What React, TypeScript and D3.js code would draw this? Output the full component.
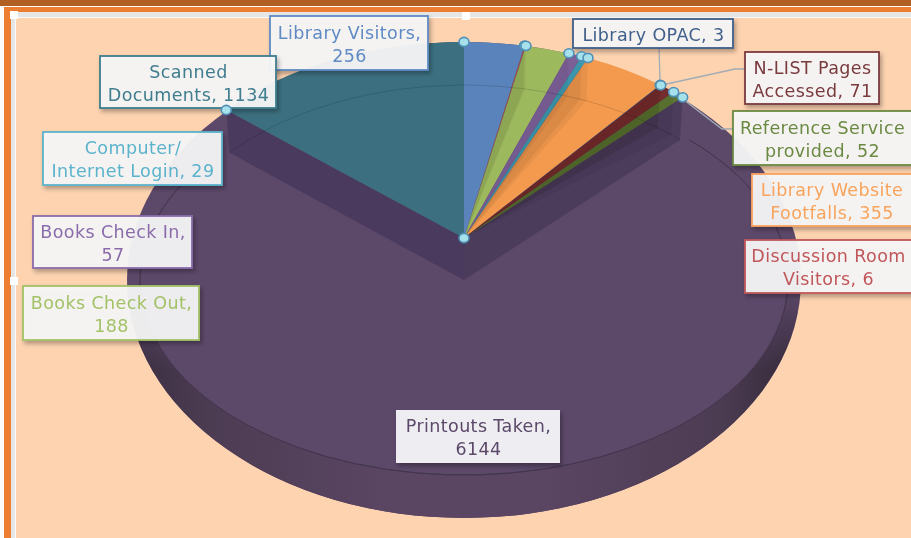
import React from "react";
import * as d3 from "d3";

const categories = [
  "Library Visitors", "Discussion Room Visitors", "Books Check Out", "Books Check In",
  "Computer/ Internet Login", "Library Website Footfalls", "Library OPAC",
  "N-LIST Pages Accessed", "Reference Service provided", "Printouts Taken", "Scanned Documents",
];
const values = [256, 6, 188, 57, 29, 355, 3, 71, 52, 6144, 1134];
const sliceColors = ["#5b83bb", "#a8504e", "#9db95e", "#7c5f97", "#3f9db5", "#f49a4e", "#35577f", "#742d2c", "#5d7531", "#5c4869", "#3c7080"];
const labelColors = ["#5f8ac4", "#c0575a", "#a3c266", "#8a6cab", "#5bb3cc", "#f9a45c", "#3f5f8a", "#7a3a3e", "#6b8a42", "#5c4869", "#3f7d8e"];
const labelLines = [
  ["Library Visitors,", "256"], ["Discussion Room", "Visitors, 6"], ["Books Check Out,", "188"],
  ["Books Check In,", "57"], ["Computer/", "Internet Login, 29"], ["Library Website", "Footfalls, 355"],
  ["Library OPAC, 3"], ["N-LIST Pages", "Accessed, 71"], ["Reference Service", "provided, 52"],
  ["Printouts Taken,", "6144"], ["Scanned", "Documents, 1134"],
];
// label boxes: x0, y0, x1, y1
const labelBoxes = [
  [270, 16, 428, 70], [745, 240, 925, 293], [23, 286, 199, 340], [33, 216, 192, 268],
  [43, 132, 222, 185], [752, 174, 925, 226], [573, 19, 733, 48], [745, 52, 879, 104],
  [733, 111, 925, 165], [396, 410, 560, 463], [100, 56, 276, 108],
];

const W = 911, H = 538;
const cx = 464, cy = 238, depth = 42;
const rx = 314, ry = 196;
const outer = { rx: 337, ry: 238 };
const floor = { rx: 324, ry: 195 };
const floorTop = { rx: 310, ry: 195 };
const printoutsIndex = 9;

const pie = d3.pie<number>().sort(null).startAngle(0).endAngle(2 * Math.PI);
const arcs = pie(values).map((d, i) => ({ ...d, i }));
const unit = d3.arc<any>().innerRadius(0).outerRadius(1);
const rimOnly = d3.arc<any>().innerRadius(1).outerRadius(1);

const rim = (a: number, dy = 0, e = { rx, ry }) => {
  const [x, y] = d3.pointRadial(a, 1);
  return [cx + x * e.rx, cy + dy + y * e.ry] as [number, number];
};
const line = d3.line();
const topSlices = arcs.filter((d) => d.i !== printoutsIndex);
const printouts = arcs[printoutsIndex];
const markers = arcs.map((d) => rim(d.startAngle));
const leaders: [number, number][][] = [
  [rim(arcs[6].startAngle), [659, 48]],
  [rim(arcs[7].startAngle), [735, 69], [745, 69]],
  [rim(arcs[8].startAngle), [722, 129], [733, 129]],
];
const wall = (a: number) => line([[cx, cy], rim(a), rim(a, depth, floorTop), [cx, cy + depth]])!;
const sliceWall = (a: number) => line([[cx, cy], rim(a), rim(a, depth, floorTop)])! + "Z";

export default function App() {
  const fontFamily = "'DejaVu Sans', sans-serif";
  return (
    <svg width={W} height={H} viewBox={`0 0 ${W} ${H}`}
      style={{ position: "fixed", left: 0, top: 0, display: "block" }}>
      <defs>
        <linearGradient id="side" x1="0" x2="1" y1="0" y2="0">
          <stop offset="0" stopColor="#3a2e40" />
          <stop offset="0.12" stopColor="#4c3c52" />
          <stop offset="0.38" stopColor="#5a4563" />
          <stop offset="0.62" stopColor="#5a4563" />
          <stop offset="0.88" stopColor="#4c3c52" />
          <stop offset="1" stopColor="#332838" />
        </linearGradient>
        <linearGradient id="fade" gradientUnits="userSpaceOnUse" x1="0" x2="0" y1="290" y2="370">
          <stop offset="0" stopColor="#000" />
          <stop offset="1" stopColor="#fff" />
        </linearGradient>
        <mask id="lower" maskUnits="userSpaceOnUse" x={0} y={0} width={W} height={H}>
          <rect width={W} height={H} fill="url(#fade)" />
        </mask>
        <filter id="sh" x="-10%" y="-15%" width="125%" height="140%">
          <feDropShadow dx={2} dy={3} stdDeviation={2.2} floodColor="#000" floodOpacity={0.3} />
        </filter>
        <filter id="soft"><feGaussianBlur stdDeviation={0.3} /></filter>
      </defs>

      {/* frame */}
      <rect width={W} height={H} fill="#fbfbfb" />
      <rect x={16} y={18} width={W} height={H} fill="#fdd3b0" />
      <rect x={11} y={12} width={W} height={5} fill="#e6e6e6" />
      <rect x={11} y={12} width={4} height={H} fill="#e6e6e6" />
      <rect x={4} y={7} width={7} height={H} fill="#ed7d31" />
      <rect x={4} y={7} width={W} height={5} fill="#ed7d31" />
      <rect x={0} y={0} width={W} height={6} fill="#b25f24" />
      {[[14, 15], [14, 281], [466, 16]].map(([x, y], i) => (
        <rect key={i} x={x - 4} y={y - 4} width={8} height={8} fill="#fff" />
      ))}

      {/* silhouette and Printouts floor */}
      <ellipse cx={cx} cy={cy + depth} rx={outer.rx} ry={outer.ry} fill="#5c4869" />
      <ellipse cx={cx} cy={cy + depth} rx={outer.rx} ry={outer.ry} fill="url(#side)" mask="url(#lower)" />
      <path d={unit(printouts)!} transform={`translate(${cx},${cy + depth}) scale(${floor.rx},${floor.ry})`}
        fill="#5c4869" />
      <path d={rimOnly(printouts)!} transform={`translate(${cx},${cy + depth}) scale(${floor.rx},${floor.ry})`}
        fill="none" stroke="#463750" strokeWidth={1} vectorEffect="non-scaling-stroke" />

      {/* walls */}
      <path d={wall(printouts.startAngle)} fill="#4c3c5c" />
      <path d={wall(printouts.endAngle)} fill="#493a5e" />

      {/* top slices */}
      {topSlices.map((d) => (
        <path key={d.i} d={unit(d)!} transform={`translate(${cx},${cy}) scale(${rx},${ry})`}
          fill={sliceColors[d.i]} />
      ))}
      {topSlices.filter((d) => d.i !== 10).map((d) => (
        <path key={d.i} d={sliceWall(d.startAngle)} fill="#000" opacity={0.05} />
      ))}
      {topSlices.map((d) => (
        <path key={d.i} d={rimOnly(d)!}
          transform={`translate(${cx},${cy + depth}) scale(${floorTop.rx},${floorTop.ry})`}
          fill="none" stroke="#000" strokeOpacity={0.07} strokeWidth={1} vectorEffect="non-scaling-stroke" />
      ))}

      {/* leaders */}
      {leaders.map((pts, i) => (
        <path key={i} d={line(pts)!} fill="none" stroke="#a3abb5" strokeWidth={1.3} />
      ))}

      {/* labels */}
      {categories.map((name, i) => {
        const [x0, y0, x1, y1] = labelBoxes[i];
        const tx = (x0 + Math.min(x1, W)) / 2 + 0.5;
        const lines = labelLines[i];
        const isP = i === printoutsIndex;
        const mid = (y0 + y1) / 2;
        return (
          <g key={name}>
            <rect x={x0} y={y0} width={x1 - x0} height={y1 - y0}
              fill={isP ? "#eeeef2" : "#f8f8f8"} fillOpacity={isP ? 1 : 0.93}
              stroke={isP ? "none" : labelColors[i]} strokeWidth={1.8} filter="url(#sh)" />
            <text textAnchor="middle" fontFamily={fontFamily} fontSize={17.5} letterSpacing={0.4}
              fill={labelColors[i]} filter="url(#soft)">
              {lines.map((t, k) => (
                <tspan key={k} x={tx} y={mid + 7 + (k - (lines.length - 1) / 2) * 23}>{t}</tspan>
              ))}
            </text>
          </g>
        );
      })}

      {/* markers */}
      {markers.map(([x, y], i) => (
        <ellipse key={i} cx={x} cy={y} rx={5} ry={4.6} fill="#a6e0ea" stroke="#4f8fb5" strokeWidth={1.6} />
      ))}
      <ellipse cx={cx} cy={cy} rx={5} ry={4.6} fill="#a6e0ea" stroke="#4f8fb5" strokeWidth={1.6} />
    </svg>
  );
}
